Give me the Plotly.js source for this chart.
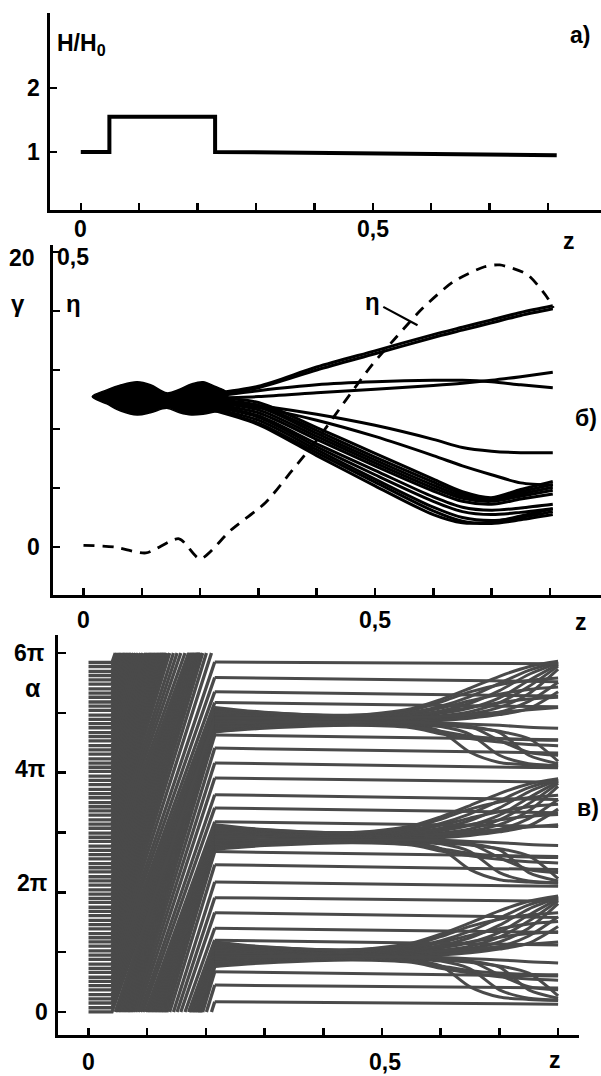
<!DOCTYPE html>
<html><head><meta charset="utf-8">
<script src="https://cdn.plot.ly/plotly-3.0.1.min.js"></script>
<style>html,body{margin:0;padding:0;background:#fff}#chart{width:601px;height:1076px}</style>
</head><body><div id="chart"></div>
<script>
// ---------------- DATA ----------------
// axis ticks
const zTicks = [0, 0.1, 0.2, 0.3, 0.4, 0.5, 0.6, 0.7, 0.8];
const zMajorTicks = [0, 0.5];
const hTicks = [1, 2];
const gammaTicks = [0, 4, 8, 12, 16, 20];
const gammaLabelTicks = [0, 20];
const alphaTicks = [0, 1, 2, 3, 4, 5, 6];          // in units of pi

// panel a) field profile H/H0
const zField = [0, 0.049, 0.049, 0.23, 0.23, 0.815];
const hField = [1.0, 1.0, 1.55, 1.55, 1.0, 0.95];

// panel b) energy spread envelope (dense region)
const zBlob = [0.015, 0.04, 0.065, 0.092, 0.115, 0.143, 0.165, 0.185, 0.205, 0.225, 0.245];
const blobTop = [10.2, 10.65, 11.0, 11.2, 11.0, 10.45, 10.7, 11.05, 11.2, 10.9, 10.5];
const blobBottom = [10.2, 9.7, 9.2, 8.95, 9.1, 9.4, 9.1, 8.95, 9.0, 9.15, 9.3];

// panel b) individual gamma trajectories after the fan-out
const zGamma = [0.22, 0.3, 0.4, 0.5, 0.6, 0.65, 0.7, 0.75, 0.805];
const gammaLines = [
  [10.4, 10.9, 12.2, 13.3, 14.4, 14.9, 15.4, 15.9, 16.35],
  [10.3, 10.8, 12.0, 13.1, 14.2, 14.7, 15.2, 15.7, 16.15],
  [10.2, 10.6, 11.0, 11.2, 11.3, 11.3, 11.2, 11.0, 10.8],
  [10.1, 10.2, 10.45, 10.7, 10.95, 11.1, 11.3, 11.55, 11.85],
  [10.0, 9.6, 9.0, 8.25, 7.3, 6.75, 6.5, 6.4, 6.4],
  [9.9, 9.45, 8.6, 7.5, 6.2, 5.5, 4.9, 4.35, 4.2],
  [10.1, 9.8, 8.1, 6.35, 4.6, 3.75, 3.35, 3.9, 4.45],
  [10.0, 9.6, 7.9, 6.1, 4.4, 3.6, 3.3, 3.75, 4.25],
  [9.9, 9.5, 7.7, 5.9, 4.2, 3.45, 3.2, 3.6, 4.05],
  [9.8, 9.3, 7.5, 5.7, 4.0, 3.3, 3.1, 3.45, 3.85],
  [9.7, 9.1, 7.3, 5.5, 3.8, 3.1, 2.9, 3.25, 3.6],
  [9.6, 8.9, 7.0, 5.2, 3.4, 2.7, 2.5, 2.65, 2.9],
  [9.5, 8.8, 6.8, 4.9, 3.1, 2.4, 2.2, 2.35, 2.6],
  [9.4, 8.6, 6.6, 4.6, 2.7, 2.0, 1.8, 2.0, 2.4],
  [9.35, 8.4, 6.4, 4.4, 2.45, 1.75, 1.6, 1.85, 2.2],
  [9.3, 8.3, 6.2, 4.15, 2.2, 1.65, 1.7, 2.1, 2.6]
];

// panel b) efficiency eta (dashed)
const zEta = [0.0, 0.054, 0.107, 0.164, 0.2, 0.253, 0.312, 0.358, 0.404, 0.45, 0.496, 0.536, 0.582, 0.635, 0.688, 0.714, 0.761, 0.794, 0.806];
const eta  = [0.003, 0.0, -0.01, 0.014, -0.02, 0.029, 0.075, 0.13, 0.186, 0.249, 0.31, 0.355, 0.405, 0.45, 0.475, 0.478, 0.462, 0.425, 0.405];

// panel c) phases alpha (units of pi)
const alphaStart = [0.00,0.07,0.15,0.22,0.29,0.37,0.44,0.51,0.58,0.66,0.73,0.80,0.88,0.95,1.02,1.10,1.17,1.24,1.31,1.39,1.46,1.53,1.61,1.68,1.75,1.83,1.90,1.97,2.04,2.12,2.19,2.26,2.34,2.41,2.48,2.56,2.63,2.70,2.77,2.85,2.92,2.99,3.07,3.14,3.21,3.29,3.36,3.43,3.50,3.58,3.65,3.72,3.80,3.87,3.94,4.02,4.09,4.16,4.23,4.31,4.38,4.45,4.53,4.60,4.67,4.75,4.82,4.89,4.96,5.04,5.11,5.18,5.26,5.33,5.40,5.48,5.55,5.62,5.69,5.77,5.84];
const zPhaseHold = 0.04;      // end of the entry plateau
const zPhaseStop = 0.215;     // end of the fast phase rotation
const phaseAdvance = 5.2;     // typical rotation in the strong field (pi)
const freeStart = [0.17,0.45,0.67, 1.20,1.40,1.66,1.91,2.17,2.46,2.68, 3.18,3.41,3.63,3.91,4.16,4.41,4.63, 5.17,5.35,5.59,5.85];
const freeEnd   = [0.13,0.40,0.60, 1.12,1.33,1.58,1.85,2.10,2.38,2.60, 3.10,3.33,3.55,3.84,4.08,4.33,4.55, 5.10,5.28,5.52,5.82];
const zFree = [0.215, 0.8];
const bunchCentre = [0.97, 2.93, 4.89];
const zBunch = [0.215, 0.3, 0.45, 0.55, 0.6, 0.65, 0.7, 0.75, 0.8];
const bunchRel = [
  [0.20, 0.12, 0.07, 0.18, 0.33, 0.52, 0.72, 0.88, 0.97],
  [0.15, 0.10, 0.06, 0.12, 0.22, 0.38, 0.60, 0.82, 0.96],
  [0.10, 0.07, 0.04, 0.08, 0.14, 0.27, 0.48, 0.75, 0.94],
  [0.05, 0.04, 0.02, 0.05, 0.10, 0.19, 0.36, 0.65, 0.92],
  [0.00, 0.01, 0.00, 0.02, 0.06, 0.13, 0.28, 0.55, 0.89],
  [-0.03, -0.01, -0.01, 0.00, 0.03, 0.09, 0.20, 0.43, 0.84],
  [0.18, 0.11, 0.07, 0.15, 0.29, 0.46, 0.58, 0.65, 0.69],
  [0.12, 0.09, 0.05, 0.10, 0.19, 0.31, 0.42, 0.50, 0.54],
  [0.07, 0.05, 0.03, 0.06, 0.12, 0.20, 0.28, 0.34, 0.37],
  [-0.08, -0.05, -0.03, -0.02, 0.00, 0.05, 0.12, 0.30, 0.62],
  [-0.12, -0.07, -0.05, -0.04, -0.02, 0.02, 0.08, 0.18, 0.46],
  [0.02, 0.02, 0.01, 0.03, 0.05, 0.08, 0.12, 0.16, 0.20],
  [-0.20, -0.13, -0.09, -0.10, -0.20, -0.55, -0.72, -0.76, -0.78],
  [-0.16, -0.11, -0.08, -0.09, -0.12, -0.25, -0.60, -0.74, -0.77],
  [-0.12, -0.09, -0.06, -0.07, -0.09, -0.12, -0.22, -0.60, -0.74],
  [-0.14, -0.10, -0.07, -0.08, -0.10, -0.14, -0.20, -0.32, -0.70],
  [-0.21, -0.15, -0.10, -0.14, -0.24, -0.32, -0.38, -0.42, -0.44],
  [-0.09, -0.07, -0.05, -0.06, -0.08, -0.12, -0.35, -0.55, -0.60],
  [-0.17, -0.12, -0.08, -0.12, -0.20, -0.28, -0.32, -0.34, -0.35],
  [-0.06, -0.05, -0.04, -0.05, -0.06, -0.08, -0.10, -0.13, -0.15]
];

// ---------------- BUILD ----------------
const W = 601, H = 1076;
const FONT = "'Liberation Sans',Arial,sans-serif";
const INK = '#000';
const GREY = '#4a4a4a';

const traces = [];
// panel a
traces.push({x: zField, y: hField, xaxis: 'x', yaxis: 'y', mode: 'lines',
  line: {color: INK, width: 4}, hoverinfo: 'skip'});

// panel b blob
traces.push({x: zBlob.concat(zBlob.slice().reverse()),
  y: blobTop.concat(blobBottom.slice().reverse()),
  xaxis: 'x2', yaxis: 'y2', mode: 'lines', fill: 'toself', fillcolor: INK,
  line: {color: INK, width: 1.5, shape: 'spline'}, hoverinfo: 'skip'});
// gamma lines
{
  const xs = [], ys = [];
  gammaLines.forEach(g => { zGamma.forEach((z, i) => { xs.push(z); ys.push(g[i]); }); xs.push(null); ys.push(null); });
  traces.push({x: xs, y: ys, xaxis: 'x2', yaxis: 'y2', mode: 'lines', connectgaps: false,
    line: {color: INK, width: 3.0, shape: 'spline', smoothing: 0.8}, hoverinfo: 'skip'});
}
// eta dashed
traces.push({x: zEta, y: eta, xaxis: 'x2', yaxis: 'y4', mode: 'lines',
  line: {color: INK, width: 2.8, dash: '11px,8px', shape: 'spline', smoothing: 0.7}, hoverinfo: 'skip'});

// panel c: electrons
const electrons = [];
freeStart.forEach((a, i) => electrons.push({f: a, zs: zFree, vs: [a, freeEnd[i]]}));
bunchCentre.forEach(c => bunchRel.forEach(r => electrons.push({f: c + r[0], zs: zBunch, vs: r.map(v => c + v)})));
electrons.sort((a, b) => a.f - b.f);
const N = Math.min(electrons.length, alphaStart.length);
const mod6 = v => ((v % 6) + 6) % 6;
function advance(k, s) {
  let d = mod6(electrons[(k + s) % N].f - alphaStart[k]);
  if (d < 2.5) d += 6;
  return d;
}
let bestS = 0, bestErr = 1e9;
for (let s = 0; s < N; s++) {
  let m = 0; for (let k = 0; k < N; k++) m += advance(k, s);
  m /= N;
  if (Math.abs(m - phaseAdvance) < bestErr) { bestErr = Math.abs(m - phaseAdvance); bestS = s; }
}
const preX = [], preY = [], postX = [], postY = [];
for (let k = 0; k < N; k++) {
  const a0 = alphaStart[k];
  const D = advance(k, bestS);
  const e = electrons[(k + bestS) % N];
  preX.push(0, zPhaseHold); preY.push(a0, a0);
  let w = 1;
  while (a0 + D > 6 * w) {
    const zc = zPhaseHold + (6 * w - a0) / D * (zPhaseStop - zPhaseHold);
    preX.push(zc, null, zc); preY.push(6, null, 0);
    w++;
  }
  preX.push(zPhaseStop); preY.push(a0 + D - 6 * (w - 1));
  preX.push(null); preY.push(null);
  e.zs.forEach((z, i) => { postX.push(z); postY.push(e.vs[i]); });
  postX.push(null); postY.push(null);
}
traces.push({x: preX, y: preY, xaxis: 'x3', yaxis: 'y3', mode: 'lines', connectgaps: false,
  line: {color: GREY, width: 3.3}, hoverinfo: 'skip'});
traces.push({x: postX, y: postY, xaxis: 'x3', yaxis: 'y3', mode: 'lines', connectgaps: false,
  line: {color: GREY, width: 3.0, shape: 'spline', smoothing: 0.8}, hoverinfo: 'skip'});

// ---------------- LAYOUT ----------------
const ax = (o) => Object.assign({showline: true, linecolor: INK, linewidth: 3, showgrid: false, zeroline: false,
  ticks: 'inside', tickcolor: INK, tickwidth: 2.5, ticklen: 7, showticklabels: false, fixedrange: true}, o);
const py = v => 1 - v / H;
const layout = {
  width: W, height: H, margin: {l: 0, r: 0, t: 0, b: 0},
  paper_bgcolor: '#fff', plot_bgcolor: 'rgba(0,0,0,0)', showlegend: false,
  xaxis:  ax({domain: [50 / W, 1], range: [-0.0527, 0.8908], anchor: 'y', tickvals: zTicks}),
  xaxis4: {overlaying: 'x', anchor: 'y', range: [-0.0527, 0.8908], showline: false, showgrid: false, zeroline: false,
    ticks: 'inside', tickcolor: INK, tickwidth: 2.5, ticklen: 10, tickvals: zMajorTicks, showticklabels: false, fixedrange: true},
  yaxis:  ax({domain: [py(210), py(13)], range: [0.094, 3.17], anchor: 'x', tickvals: hTicks}),
  xaxis2: ax({domain: [52.7 / W, 1], range: [-0.0528, 0.8877], anchor: 'y2', tickvals: zTicks}),
  yaxis2: ax({domain: [py(595), py(244.6)], range: [-3.25, 20.5], anchor: 'x2', tickvals: gammaTicks}),
  yaxis4: {overlaying: 'y2', anchor: 'x2', range: [-3.25 / 40, 20.5 / 40], visible: false, fixedrange: true},
  yaxis5: {overlaying: 'y2', anchor: 'x2', range: [-3.25, 20.5], showline: false, showgrid: false, zeroline: false,
    ticks: 'outside', tickcolor: INK, tickwidth: 2.5, ticklen: 7, tickvals: gammaLabelTicks, showticklabels: false, fixedrange: true},
  xaxis3: ax({domain: [58 / W, 579 / W], range: [-0.052, 0.8356], anchor: 'y3', tickvals: zTicks}),
  yaxis3: ax({domain: [py(1035), py(635)], range: [-0.385, 6.30], anchor: 'x3', tickvals: alphaTicks, ticklen: 8}),
  annotations: []
};
function lab(text, px, pyy, size, anchor) {
  layout.annotations.push({text: '<b>' + text + '</b>', xref: 'paper', yref: 'paper', x: px / W, y: py(pyy),
    xanchor: anchor || 'center', yanchor: 'middle', showarrow: false,
    font: {family: FONT, size: size || 23, color: INK}});
}
// panel a
lab('H/H<sub>0</sub>', 55, 45, 23, 'left');
lab('2', 33, 88); lab('1', 33, 152);
lab('a)', 580, 35);
lab('0', 80, 229); lab('0,5', 373, 229); lab('z', 569, 241);
// panel b
lab('20', 22, 258); lab('0,5', 55, 257, 23, 'left');
lab('γ', 18, 303, 24); lab('η', 73, 303, 24);
lab('0', 33, 547);
lab('б)', 586, 418);
lab('0', 84, 620); lab('0,5', 375, 620); lab('z', 581, 622);
layout.annotations.push({text: '<b>η</b>', xref: 'x2', yref: 'y4', x: 0.573, y: 0.376, ax: -45, ay: -24,
  showarrow: true, arrowhead: 0, arrowwidth: 2.2, arrowcolor: INK, standoff: 0, startstandoff: 2,
  font: {family: FONT, size: 24, color: INK}});
// panel c
lab('6π', 29, 653); lab('α', 33, 688, 25); lab('4π', 30, 769); lab('2π', 32, 883); lab('0', 41, 1012);
lab('в)', 588, 808);
lab('0', 88, 1062); lab('0,5', 385, 1062); lab('z', 555, 1060);

Plotly.newPlot('chart', traces, layout, {staticPlot: true, displayModeBar: false});
</script>
</body></html>
